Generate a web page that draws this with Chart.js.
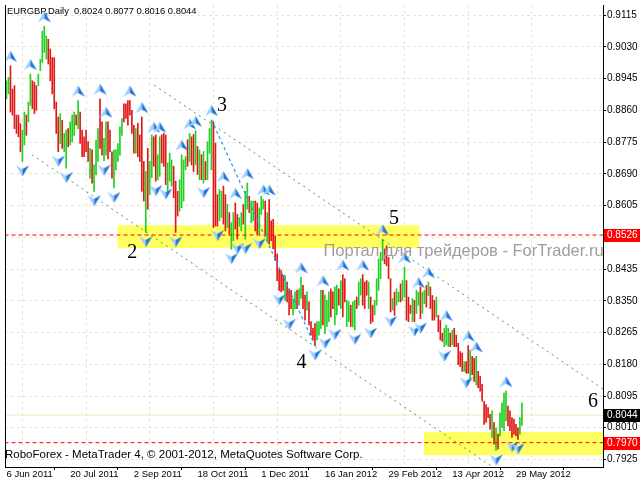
<!DOCTYPE html>
<html>
<head>
<meta charset="utf-8">
<title>EURGBP Daily</title>
<script src="https://cdn.jsdelivr.net/npm/chart.js@4.4.1/dist/chart.umd.min.js"></script>
<style>
  html, body { margin: 0; padding: 0; background: #fff; }
  canvas { display: block; }
</style>
</head>
<body>
<canvas id="chart" width="640" height="480"></canvas>
<script>
// ---- data ----
// one bar per trading day, index 0 = 6 Jun 2011
const dateLabels = ['6 Jun 2011', '20 Jul 2011', '2 Sep 2011', '18 Oct 2011', '1 Dec 2011',
                    '16 Jan 2012', '29 Feb 2012', '13 Apr 2012', '29 May 2012'];

const lows = [
  // 0 - 64
  .8891,.8904,.8855,.8847,.8811,.8798,.8789,.8749,.8723,.8767,
  .8793,.8829,.8873,.8864,.8851,.8860,.8926,.8966,.8988,.9015,
  .8997,.8984,.8939,.8904,.8864,.8798,.8749,.8771,.8758,.8749,
  .8705,.8762,.8767,.8776,.8793,.8820,.8811,.8771,.8736,.8736,
  .8749,.8723,.8678,.8665,.8643,.8687,.8723,.8758,.8740,.8725,
  .8740,.8730,.8749,.8678,.8652,.8700,.8723,.8740,.8793,.8829,
  .8838,.8820,.8847,.8798,.8745,
  // 65 - 129
  .8745,.8736,.8723,.8643,.8617,.8533,.8595,.8634,.8679,.8710,
  .8670,.8674,.8683,.8719,.8710,.8661,.8643,.8670,.8657,.8626,
  .8533,.8577,.8590,.8599,.8617,.8701,.8710,.8723,.8714,.8696,
  .8714,.8688,.8674,.8674,.8665,.8674,.8674,.8745,.8701,.8546,
  .8550,.8550,.8564,.8573,.8555,.8537,.8546,.8528,.8488,.8511,
  .8542,.8515,.8550,.8537,.8555,.8515,.8595,.8586,.8559,.8564,
  .8537,.8528,.8528,.8581,.8595,
  // 130 - 193
  .8528,.8511,.8502,.8511,.8489,.8458,.8404,.8378,.8374,.8378,
  .8351,.8347,.8312,.8329,.8312,.8329,.8329,.8338,.8356,.8329,
  .8298,.8325,.8285,.8258,.8245,.8230,.8245,.8258,.8276,.8285,
  .8262,.8281,.8294,.8307,.8329,.8285,.8312,.8338,.8329,.8307,
  .8347,.8281,.8294,.8281,.8280,.8272,.8329,.8338,.8365,.8338,
  .8329,.8365,.8329,.8289,.8294,.8312,.8338,.8378,.8409,.8458,
  .8449,.8444,.8409,.8320,
  // 194 - 259
  .8325,.8311,.8338,.8347,.8347,.8351,.8360,.8298,.8294,.8316,
  .8294,.8294,.8316,.8338,.8302,.8316,.8342,.8333,.8364,.8329,
  .8298,.8298,.8307,.8267,.8245,.8241,.8227,.8232,.8227,.8227,
  .8232,.8227,.8227,.8179,.8174,.8161,.8161,.8156,.8156,.8143,
  .8152,.8134,.8125,.8117,.8108,.8081,.8019,.8024,.8037,.8006,
  .7984,.7966,.7949,.7953,.7988,.8010,.8002,.8028,.8015,.8002,
  .7984,.7993,.7988,.7979,.7993,.8016
];

const highs = [
  // 0 - 64
  .8939,.8948,.8979,.8917,.8926,.8847,.8847,.8824,.8807,.8855,
  .8847,.8882,.8957,.8939,.8935,.8926,.8957,.8997,.9072,.9085,
  .9059,.9050,.9024,.9001,.9001,.8882,.8842,.8851,.8833,.8798,
  .8807,.8811,.8829,.8847,.8855,.8847,.8886,.8855,.8807,.8789,
  .8807,.8776,.8758,.8754,.8714,.8780,.8811,.8891,.8829,.8785,
  .8829,.8829,.8807,.8749,.8754,.8754,.8771,.8816,.8838,.8877,
  .8877,.8886,.8886,.8860,.8820,
  // 65 - 129
  .8811,.8825,.8794,.8842,.8723,.8696,.8758,.8723,.8794,.8789,
  .8794,.8741,.8789,.8794,.8798,.8794,.8719,.8745,.8727,.8710,
  .8670,.8643,.8674,.8741,.8727,.8736,.8781,.8798,.8789,.8795,
  .8805,.8763,.8754,.8741,.8750,.8723,.8776,.8811,.8834,.8829,
  .8772,.8634,.8648,.8643,.8657,.8634,.8608,.8586,.8559,.8586,
  .8612,.8581,.8573,.8586,.8608,.8643,.8665,.8630,.8617,.8617,
  .8617,.8612,.8599,.8630,.8621,
  // 130 - 193
  .8617,.8586,.8621,.8564,.8568,.8524,.8475,.8435,.8431,.8418,
  .8418,.8400,.8382,.8378,.8356,.8374,.8378,.8382,.8413,.8391,
  .8365,.8374,.8347,.8294,.8276,.8289,.8294,.8294,.8378,.8378,
  .8365,.8351,.8374,.8382,.8374,.8387,.8391,.8382,.8404,.8420,
  .8409,.8351,.8347,.8338,.8347,.8351,.8360,.8400,.8409,.8420,
  .8400,.8404,.8400,.8360,.8338,.8351,.8409,.8462,.8480,.8515,
  .8489,.8497,.8466,.8409,
  // 194 - 259
  .8356,.8373,.8382,.8373,.8395,.8404,.8440,.8404,.8360,.8338,
  .8356,.8351,.8378,.8373,.8387,.8373,.8378,.8391,.8400,.8387,
  .8364,.8351,.8360,.8311,.8298,.8263,.8276,.8285,.8276,.8263,
  .8271,.8276,.8258,.8236,.8214,.8210,.8187,.8187,.8230,.8218,
  .8201,.8196,.8201,.8161,.8148,.8126,.8081,.8072,.8064,.8046,
  .8055,.8024,.8010,.7993,.8050,.8077,.8103,.8108,.8068,.8055,
  .8037,.8033,.8019,.8010,.8037,.8077
];

// G = bullish bar, R = bearish bar
const barDir =
  'GGRRRRRRGG' + 'RGGRRRGGGG' + 'GRRRRRRGRG' + 'GRGGGRGRRR' + 'RRGRGGGRRG' + 'GRRRGGGGGR' + 'RRRRR' +
  'GRRRRGRGGR' + 'RGGRRRGGGR' + 'RRGGGGRGRR' + 'GRGRGRGGGR' + 'RRGGRRGRGG' + 'RRGGRGGRGG' + 'RRGGG' +
  'RGRRRRRRRR' + 'GRRRGGRGGR' + 'RGRRRRGGGR' + 'GGGRRGGRGR' + 'RGGRGGRGGR' + 'RRGRRGGGGG' + 'RRRR' +
  'GRGGRGGRRR' + 'GRGGRGGRGR' + 'RRGRRRGGGR' + 'GRRRRRGRRG' + 'RRGRRRRRRR' + 'GRGRGGGGRR' + 'RRRRGG';

// bar indices carrying a fractal arrow
const upFractals = [2, 12, 19, 36, 47, 50, 62, 68, 74, 77, 88, 92, 95, 103, 109, 115, 121, 129, 132,
                    148, 159, 169, 179, 189, 200, 207, 212, 221, 232, 236, 251];
const downFractals = [8, 26, 30, 44, 49, 54, 70, 75, 80, 85, 99, 106, 113, 116, 120, 127, 137, 142,
                      155, 160, 165, 175, 183, 193, 205, 208, 220, 231, 246, 254, 257];

const yTicks = [0.9115, 0.9030, 0.8945, 0.8860, 0.8775, 0.8690, 0.8605, 0.8520,
                0.8435, 0.8350, 0.8265, 0.8180, 0.8095, 0.8010, 0.7925];
const xTicks = [0, 16, 32, 48, 64, 80, 96, 112, 128, 144, 160, 176, 192, 208, 224, 240, 256, 272, 288];

const levels = [0.8526, 0.7970];
const lastPrice = 0.8044;

// support / resistance boxes (bar index range, price range)
const zoneFrom = [55.75, 209.75];
const zoneTo = [207.6, 301];
const zoneTop = [0.85524, 0.79985];
const zoneBottom = [0.84912, 0.79363];

// channel anchors (bar index, price)
const upperChannel = [{ x: 74.25, y: 0.89273 }, { x: 299.75, y: 0.81137 }];
const lowerChannel = [{ x: 12.75, y: 0.87412 }, { x: 243.25, y: 0.79089 }];
const waveFrom = 103, waveTo = 155;

// wave numbers
const waveText = ['2', '3', '4', '5', '6'];
const waveX = [63.25, 108.25, 148.25, 194.75, 294.75];
const waveY = [0.84779, 0.88715, 0.81828, 0.85683, 0.80791];

const titleText = 'EURGBP,Daily  0.8024 0.8077 0.8016 0.8044';
const footerText = 'RoboForex - MetaTrader 4, \u00a9 2001-2012, MetaQuotes Software Corp.';
const watermark = { text: 'Портал для трейдеров - ForTrader.ru', x: 159.25, y: 0.84700 };

// ---- styles ----
const upColour = '#22d022';
const downColour = '#e01818';
const gridColour = '#e9e6cc';
const zoneColour = '#ffff60';
const fontFamily = '"Liberation Sans", Arial, sans-serif';

Chart.defaults.font.family = fontFamily;

function makeArrow(up) {
  const c = document.createElement('canvas');
  c.width = 13;
  c.height = 31;
  const g = c.getContext('2d');
  const tip = up ? [6.5, 0.5] : [6.5, 30.5];
  const l = up ? [0, 11.5] : [0, 19.5];
  const r = up ? [13, 11.5] : [13, 19.5];
  const n = up ? [6.5, 8] : [6.5, 23];
  const poly = (pts, col) => {
    g.fillStyle = col;
    g.beginPath();
    g.moveTo(pts[0][0], pts[0][1]);
    pts.slice(1).forEach(p => g.lineTo(p[0], p[1]));
    g.closePath();
    g.fill();
  };
  poly([tip, n, l], '#9fd0ff');
  poly([tip, r, n], '#1f74dc');
  return c;
}
const upArrow = makeArrow(true);
const downArrow = makeArrow(false);

const datasets = [];

zoneFrom.forEach((from, k) => {
  datasets.push({
    type: 'line', order: 10,
    data: [{ x: from, y: zoneTop[k] }, { x: zoneTo[k], y: zoneTop[k] }],
    borderWidth: 0, borderColor: 'rgba(0,0,0,0)', pointRadius: 0,
    fill: { value: zoneBottom[k] }, backgroundColor: zoneColour
  });
});

datasets.push({
  type: 'line', order: 9,
  data: [{ x: -1, y: lastPrice }, { x: 301, y: lastPrice }],
  borderColor: '#ece8c0', borderWidth: 1, pointRadius: 0, fill: false
});

datasets.push({
  type: 'bar', order: 8,
  data: lows.map((lo, i) => ({ x: i, y: [lo, highs[i]] })),
  backgroundColor: lows.map((lo, i) => barDir[i] === 'G' ? upColour : downColour),
  barThickness: 1, borderWidth: 0
});

levels.forEach(v => {
  datasets.push({
    type: 'line', order: 5,
    data: [{ x: -1, y: v }, { x: 301, y: v }],
    borderColor: '#ff0000', borderWidth: 1, borderDash: [4, 3], pointRadius: 0, fill: false
  });
});

[upperChannel, lowerChannel].forEach(line => {
  datasets.push({
    type: 'line', order: 4, data: line,
    borderColor: '#3a9f63', borderWidth: 1, borderDash: [2, 4], pointRadius: 0, fill: false
  });
});

datasets.push({
  type: 'line', order: 3,
  data: [{ x: waveFrom, y: highs[waveFrom] }, { x: waveTo, y: lows[waveTo] }],
  borderColor: '#1e90ff', borderWidth: 1.2, borderDash: [3, 3], pointRadius: 0, fill: false
});

datasets.push({
  type: 'line', order: 1, showLine: false,
  data: upFractals.map(i => ({ x: i, y: highs[i] })),
  pointStyle: upArrow, pointRadius: 4, pointHoverRadius: 4
});
datasets.push({
  type: 'line', order: 1, showLine: false,
  data: downFractals.map(i => ({ x: i, y: lows[i] })),
  pointStyle: downArrow, pointRadius: 4, pointHoverRadius: 4
});

// texts, frame and price tags, MT4 style
const mtPlugin = {
  id: 'mt4',
  afterDraw(chart) {
    const { ctx, chartArea: a, scales: { x, y } } = chart;
    ctx.save();

    ctx.strokeStyle = '#000';
    ctx.lineWidth = 1;
    ctx.beginPath();
    ctx.moveTo(a.left + 0.5, a.top);
    ctx.lineTo(a.left + 0.5, a.bottom);
    ctx.stroke();

    ctx.font = '16.5px ' + fontFamily;
    ctx.fillStyle = '#a39b9b';
    ctx.textAlign = 'left';
    ctx.textBaseline = 'alphabetic';
    ctx.fillText(watermark.text, x.getPixelForValue(watermark.x), y.getPixelForValue(watermark.y));

    ctx.font = '20px "Liberation Serif", "Times New Roman", serif';
    ctx.fillStyle = '#000';
    ctx.textAlign = 'center';
    ctx.textBaseline = 'middle';
    waveText.forEach((t, k) => {
      ctx.fillText(t, x.getPixelForValue(waveX[k]), y.getPixelForValue(waveY[k]));
    });

    const tags = [[levels[0], '#ff0000'], [lastPrice, '#000000'], [levels[1], '#ff0000']];
    ctx.font = '10px ' + fontFamily;
    ctx.textAlign = 'left';
    tags.forEach(([v, bg]) => {
      const cy = Math.round(y.getPixelForValue(v));
      ctx.fillStyle = bg;
      ctx.fillRect(a.right + 1, cy - 6, 640 - a.right - 1, 13);
      ctx.fillStyle = '#fff';
      ctx.fillText(v.toFixed(4), a.right + 4, cy + 0.5);
    });

    ctx.fillStyle = '#000';
    ctx.font = '9.4px ' + fontFamily;
    ctx.fillText(titleText, 7, 11);
    ctx.font = '11.5px ' + fontFamily;
    ctx.fillText(footerText, 5, 455);

    ctx.restore();
  }
};

new Chart(document.getElementById('chart').getContext('2d'), {
  type: 'bar',
  data: { datasets: datasets },
  options: {
    responsive: false,
    animation: false,
    devicePixelRatio: 1,
    layout: { padding: { left: 2, top: 2, right: 0, bottom: 0 } },
    plugins: { legend: { display: false }, tooltip: { enabled: false } },
    scales: {
      x: {
        type: 'linear', bounds: 'data', min: -0.75, max: 299.75, offset: false,
        afterBuildTicks: s => { s.ticks = xTicks.map(v => ({ value: v })); },
        afterFit: s => { s.height = 13; s.paddingLeft = 0; s.paddingRight = 0; },
        ticks: {
          stepSize: 16, autoSkip: false, maxRotation: 0, align: 'start', padding: 0,
          color: '#000', font: { size: 9.5, lineHeight: 1 },
          callback: v => (v % 32 === 0 ? (dateLabels[v / 32] || '') : '')
        },
        grid: {
          color: c => (c.tick && c.tick.value % 32 === 16 ? gridColour : 'rgba(0,0,0,0)'),
          tickColor: c => (c.tick && c.tick.value % 32 === 0 ? '#000' : 'rgba(0,0,0,0)'),
          tickLength: 3, tickBorderDash: []
        },
        border: { display: true, color: '#000', dash: [3, 3] }
      },
      y: {
        // 0.8526 lands on a pixel centre so the dashed levels stay crisp
        type: 'linear', position: 'right', bounds: 'data', min: 0.79049, max: 0.91419,
        afterBuildTicks: s => { s.ticks = yTicks.map(v => ({ value: v })); },
        afterFit: s => { s.width = 37; s.paddingTop = 0; s.paddingBottom = 0; },
        ticks: {
          stepSize: 0.0085, autoSkip: false, padding: 1, color: '#000',
          font: { size: 10 },
          callback: v => v.toFixed(4)
        },
        grid: { color: gridColour, tickColor: '#000', tickLength: 3, tickBorderDash: [] },
        border: { display: true, color: '#000', dash: [3, 3] }
      }
    }
  },
  plugins: [mtPlugin]
});
</script>
</body>
</html>
